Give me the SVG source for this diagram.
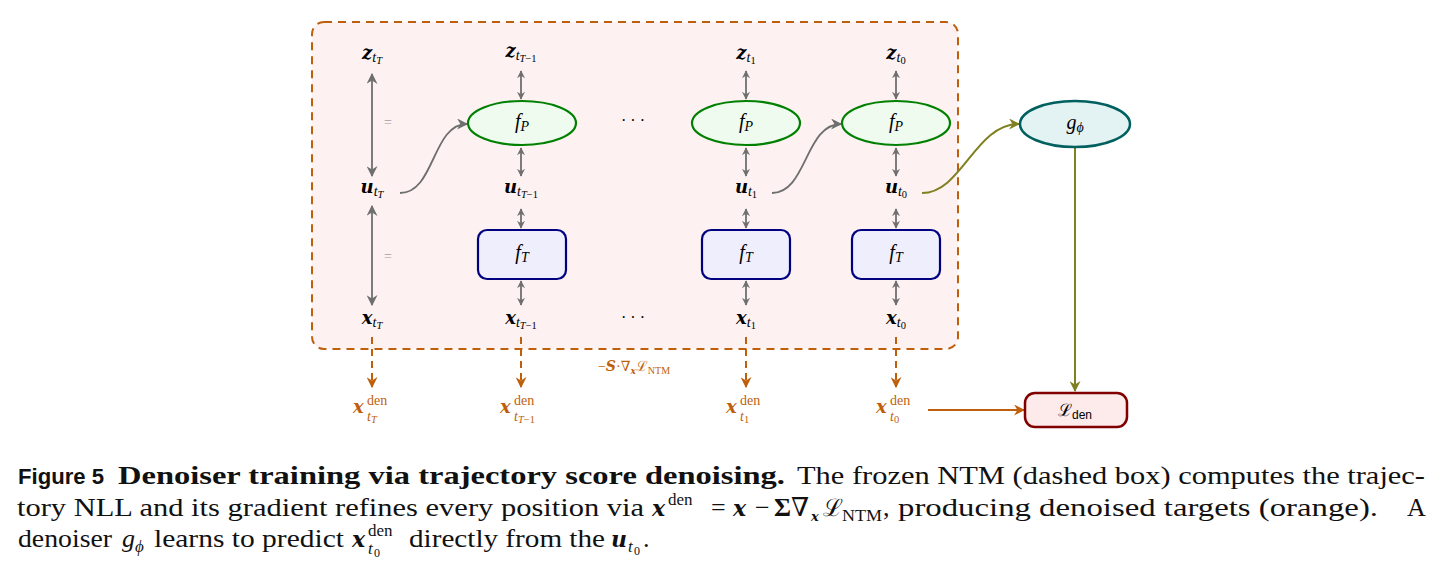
<svg xmlns="http://www.w3.org/2000/svg" width="1447" height="578" viewBox="0 0 1447 578">
<style>
text{font-family:"Liberation Serif","DejaVu Serif",serif;}
.mb{font-family:"DejaVu Serif",serif;font-style:italic;font-weight:bold;font-size:18px;}
.s{font-style:italic;font-size:14px;}
.ss{font-style:italic;font-size:10.5px;}
.n{font-style:normal;}
.fn{font-style:italic;font-size:20px;}
.g{stroke:#6f6f6f;stroke-width:1.8;fill:none;}
.cap{font-size:26px;fill:#111;}
.bi{font-family:"DejaVu Serif",serif;font-style:italic;font-weight:bold;}
.it{font-style:italic;}
.or{fill:#bf5f0c;}
</style>
<defs>
<marker id="ag" viewBox="0 0 10 10" refX="9" refY="5" markerWidth="8" markerHeight="8" orient="auto-start-reverse" markerUnits="userSpaceOnUse"><path d="M0,0 L10,5 L0,10 L3,5 Z" fill="#6f6f6f"/></marker>
<marker id="agl" viewBox="0 0 10 10" refX="9" refY="5" markerWidth="11" markerHeight="11" orient="auto-start-reverse" markerUnits="userSpaceOnUse"><path d="M0,0 L10,5 L0,10 L3,5 Z" fill="#6f6f6f"/></marker>
<marker id="ao" viewBox="0 0 10 10" refX="9" refY="5" markerWidth="11" markerHeight="11" orient="auto" markerUnits="userSpaceOnUse"><path d="M0,0 L10,5 L0,10 L3,5 Z" fill="#808020"/></marker>
<marker id="ar" viewBox="0 0 10 10" refX="9" refY="5" markerWidth="11" markerHeight="11" orient="auto" markerUnits="userSpaceOnUse"><path d="M0,0 L10,5 L0,10 L3,5 Z" fill="#bf5f0c"/></marker>
</defs>

<g id="ntm-box">
<rect x="312" y="22" width="646" height="327" rx="12" fill="#fdf2f1" stroke="#bf5f0c" stroke-width="2" stroke-dasharray="8,6"/>
</g>

<g id="connectors">
<line class="g" x1="372" y1="74" x2="372" y2="176" marker-start="url(#agl)" marker-end="url(#agl)"/>
<line class="g" x1="372" y1="206" x2="372" y2="305" marker-start="url(#agl)" marker-end="url(#agl)"/>
<g>
<line class="g" x1="521" y1="71" x2="521" y2="99" marker-start="url(#ag)" marker-end="url(#ag)"/>
<line class="g" x1="521" y1="148" x2="521" y2="176" marker-start="url(#ag)" marker-end="url(#ag)"/>
<line class="g" x1="521" y1="209" x2="521" y2="228" marker-start="url(#ag)" marker-end="url(#ag)"/>
<line class="g" x1="521" y1="281" x2="521" y2="305" marker-start="url(#ag)" marker-end="url(#ag)"/>
<line class="g" x1="746" y1="71" x2="746" y2="99" marker-start="url(#ag)" marker-end="url(#ag)"/>
<line class="g" x1="746" y1="148" x2="746" y2="176" marker-start="url(#ag)" marker-end="url(#ag)"/>
<line class="g" x1="746" y1="209" x2="746" y2="228" marker-start="url(#ag)" marker-end="url(#ag)"/>
<line class="g" x1="746" y1="281" x2="746" y2="305" marker-start="url(#ag)" marker-end="url(#ag)"/>
<line class="g" x1="896" y1="71" x2="896" y2="99" marker-start="url(#ag)" marker-end="url(#ag)"/>
<line class="g" x1="896" y1="148" x2="896" y2="176" marker-start="url(#ag)" marker-end="url(#ag)"/>
<line class="g" x1="896" y1="209" x2="896" y2="228" marker-start="url(#ag)" marker-end="url(#ag)"/>
<line class="g" x1="896" y1="281" x2="896" y2="305" marker-start="url(#ag)" marker-end="url(#ag)"/>
</g>
<path class="g" d="M400,193 C435,193 432,124 467,124" marker-end="url(#agl)"/>
<path class="g" d="M772,193 C807,193 805,124 841,124" marker-end="url(#agl)"/>
<path d="M922,193 C962,193 975,124 1019,124" fill="none" stroke="#808020" stroke-width="2" marker-end="url(#ao)"/>
<line x1="1075" y1="148" x2="1075" y2="391" stroke="#808020" stroke-width="2" marker-end="url(#ao)"/>
<g stroke="#bf5f0c" stroke-width="2" stroke-dasharray="7,5" fill="none">
<line x1="372" y1="337" x2="372" y2="387" marker-end="url(#ar)"/>
<line x1="521" y1="337" x2="521" y2="387" marker-end="url(#ar)"/>
<line x1="746" y1="337" x2="746" y2="387" marker-end="url(#ar)"/>
<line x1="896" y1="337" x2="896" y2="387" marker-end="url(#ar)"/>
</g>
<line x1="928" y1="410" x2="1024" y2="410" stroke="#bf5f0c" stroke-width="2" marker-end="url(#ar)"/>
</g>

<g id="labels-z">
<text x="372" y="59" text-anchor="middle"><tspan class="mb">z</tspan><tspan class="s" dy="3">t</tspan><tspan class="ss" dy="2">T</tspan></text>
<text x="521" y="57" text-anchor="middle"><tspan class="mb">z</tspan><tspan class="s" dy="3">t</tspan><tspan class="ss" dy="2">T</tspan><tspan class="ss n">−1</tspan></text>
<text x="746" y="59" text-anchor="middle"><tspan class="mb">z</tspan><tspan class="s" dy="3">t</tspan><tspan class="ss n" dy="2">1</tspan></text>
<text x="896" y="59" text-anchor="middle"><tspan class="mb">z</tspan><tspan class="s" dy="3">t</tspan><tspan class="ss n" dy="2">0</tspan></text>
</g>
<g id="labels-u">
<text x="372" y="193" text-anchor="middle"><tspan class="mb">u</tspan><tspan class="s" dy="3">t</tspan><tspan class="ss" dy="2">T</tspan></text>
<text x="521" y="193" text-anchor="middle"><tspan class="mb">u</tspan><tspan class="s" dy="3">t</tspan><tspan class="ss" dy="2">T</tspan><tspan class="ss n">−1</tspan></text>
<text x="746" y="193" text-anchor="middle"><tspan class="mb">u</tspan><tspan class="s" dy="3">t</tspan><tspan class="ss n" dy="2">1</tspan></text>
<text x="896" y="193" text-anchor="middle"><tspan class="mb">u</tspan><tspan class="s" dy="3">t</tspan><tspan class="ss n" dy="2">0</tspan></text>
</g>
<g id="labels-x">
<text x="372" y="324" text-anchor="middle"><tspan class="mb">x</tspan><tspan class="s" dy="3">t</tspan><tspan class="ss" dy="2">T</tspan></text>
<text x="521" y="324" text-anchor="middle"><tspan class="mb">x</tspan><tspan class="s" dy="3">t</tspan><tspan class="ss" dy="2">T</tspan><tspan class="ss n">−1</tspan></text>
<text x="746" y="324" text-anchor="middle"><tspan class="mb">x</tspan><tspan class="s" dy="3">t</tspan><tspan class="ss n" dy="2">1</tspan></text>
<text x="896" y="324" text-anchor="middle"><tspan class="mb">x</tspan><tspan class="s" dy="3">t</tspan><tspan class="ss n" dy="2">0</tspan></text>
</g>
<g id="eq-marks" fill="#a0a0a0">
<text x="388" y="127" text-anchor="middle" style="font-size:14px">=</text>
<text x="388" y="261" text-anchor="middle" style="font-size:14px">=</text>
</g>
<g id="dots">
<text x="633" y="126" text-anchor="middle" style="font-size:16px">· · ·</text>
<text x="633" y="323" text-anchor="middle" style="font-size:16px">· · ·</text>
</g>

<g id="fP-1"><ellipse cx="522" cy="123" rx="54" ry="22" fill="#effbef" stroke="#008000" stroke-width="2.2"/><text x="522" y="128" text-anchor="middle"><tspan class="fn">f</tspan><tspan class="s" dy="3">P</tspan></text></g>
<g id="fP-2"><ellipse cx="746" cy="123" rx="54" ry="22" fill="#effbef" stroke="#008000" stroke-width="2.2"/><text x="746" y="128" text-anchor="middle"><tspan class="fn">f</tspan><tspan class="s" dy="3">P</tspan></text></g>
<g id="fP-3"><ellipse cx="896" cy="123" rx="54" ry="22" fill="#effbef" stroke="#008000" stroke-width="2.2"/><text x="896" y="128" text-anchor="middle"><tspan class="fn">f</tspan><tspan class="s" dy="3">P</tspan></text></g>

<g id="fT-1"><rect x="478" y="230" width="88" height="49" rx="9" fill="#eeeefc" stroke="#000080" stroke-width="2.2"/><text x="522" y="259" text-anchor="middle"><tspan class="fn">f</tspan><tspan class="s" dy="3">T</tspan></text></g>
<g id="fT-2"><rect x="702" y="230" width="88" height="49" rx="9" fill="#eeeefc" stroke="#000080" stroke-width="2.2"/><text x="746" y="259" text-anchor="middle"><tspan class="fn">f</tspan><tspan class="s" dy="3">T</tspan></text></g>
<g id="fT-3"><rect x="852" y="230" width="88" height="49" rx="9" fill="#eeeefc" stroke="#000080" stroke-width="2.2"/><text x="896" y="259" text-anchor="middle"><tspan class="fn">f</tspan><tspan class="s" dy="3">T</tspan></text></g>

<g id="g-phi"><ellipse cx="1075" cy="124" rx="55" ry="23" fill="#e3f2f2" stroke="#006060" stroke-width="2.5"/><text x="1075" y="129" text-anchor="middle"><tspan class="fn">g</tspan><tspan class="s" dy="3">ϕ</tspan></text></g>

<g id="L-den"><rect x="1025" y="393" width="102" height="34" rx="10" fill="#fdeaea" stroke="#800000" stroke-width="2.5"/><text x="1075" y="416" text-anchor="middle"><tspan style="font-family:'DejaVu Serif',serif;font-size:17px">ℒ</tspan><tspan style="font-family:'Liberation Sans',sans-serif;font-size:12px" dy="3">den</tspan></text></g>

<g id="x-den">
<text x="353" y="413" class="or mb">x</text><text x="367" y="405" class="or" style="font-size:14px">den</text><text x="367" y="421" class="or"><tspan class="s">t</tspan><tspan class="ss" dy="2">T</tspan></text>
<text x="500" y="413" class="or mb">x</text><text x="514" y="405" class="or" style="font-size:14px">den</text><text x="514" y="421" class="or"><tspan class="s">t</tspan><tspan class="ss" dy="2">T</tspan><tspan class="ss n">−1</tspan></text>
<text x="726" y="413" class="or mb">x</text><text x="740" y="405" class="or" style="font-size:14px">den</text><text x="740" y="421" class="or"><tspan class="s">t</tspan><tspan class="ss n" dy="2">1</tspan></text>
<text x="876" y="413" class="or mb">x</text><text x="890" y="405" class="or" style="font-size:14px">den</text><text x="890" y="421" class="or"><tspan class="s">t</tspan><tspan class="ss n" dy="2">0</tspan></text>
</g>

<g id="grad-label">
<text x="634" y="371" text-anchor="middle" class="or" style="font-size:14px">−<tspan class="bi">S</tspan>·∇<tspan class="bi" style="font-size:9px" dy="3">x</tspan><tspan style="font-family:'DejaVu Serif',serif" dy="-3">ℒ</tspan><tspan style="font-size:10px" dy="3">NTM</tspan></text>
</g>

<g id="caption">
<text x="18" y="484" style="font-family:'Liberation Sans',sans-serif;font-weight:bold;font-size:22px" textLength="86" lengthAdjust="spacingAndGlyphs" fill="#111">Figure 5</text>
<text x="118" y="484" class="cap" style="font-weight:bold" textLength="667" lengthAdjust="spacingAndGlyphs">Denoiser training via trajectory score denoising.</text>
<text x="797" y="484" class="cap" textLength="628" lengthAdjust="spacingAndGlyphs">The frozen NTM (dashed box) computes the trajec-</text>

<text x="17" y="516" class="cap" textLength="627" lengthAdjust="spacingAndGlyphs">tory NLL and its gradient refines every position via</text>
<text x="652" y="516" class="cap bi" style="font-size:22px">x</text>
<text x="668" y="505" class="cap" style="font-size:17px">den</text>
<text x="711" y="516" class="cap">=</text>
<text x="733" y="516" class="cap bi" style="font-size:22px">x</text>
<text x="755" y="516" class="cap">−</text>
<text x="774" y="516" class="cap" style="font-weight:bold">Σ</text>
<text x="791" y="516" class="cap">∇</text>
<text x="811" y="521" class="cap bi" style="font-size:13px">x</text>
<text x="823" y="516" class="cap" style="font-family:'DejaVu Serif',serif;font-size:24px">ℒ</text>
<text x="842" y="521" class="cap" style="font-size:17px" textLength="40" lengthAdjust="spacingAndGlyphs">NTM</text>
<text x="883" y="516" class="cap">,</text>
<text x="898" y="516" class="cap" textLength="480" lengthAdjust="spacingAndGlyphs">producing denoised targets (orange).</text>
<text x="1407" y="516" class="cap">A</text>

<text x="18" y="547" class="cap" textLength="94" lengthAdjust="spacingAndGlyphs">denoiser</text>
<text x="122" y="547" class="cap it">g</text>
<text x="135" y="552" class="cap it" style="font-size:17px">ϕ</text>
<text x="154" y="547" class="cap" textLength="190" lengthAdjust="spacingAndGlyphs">learns to predict</text>
<text x="352" y="547" class="cap bi" style="font-size:22px">x</text>
<text x="368" y="536" class="cap" style="font-size:17px">den</text>
<text x="368" y="554" class="cap it" style="font-size:17px">t</text>
<text x="374" y="557" class="cap" style="font-size:12px">0</text>
<text x="409" y="547" class="cap" textLength="196" lengthAdjust="spacingAndGlyphs">directly from the</text>
<text x="611" y="547" class="cap bi" style="font-size:22px">u</text>
<text x="628" y="552" class="cap it" style="font-size:17px">t</text>
<text x="634" y="555" class="cap" style="font-size:12px">0</text>
<text x="643" y="547" class="cap">.</text>
</g>
</svg>
